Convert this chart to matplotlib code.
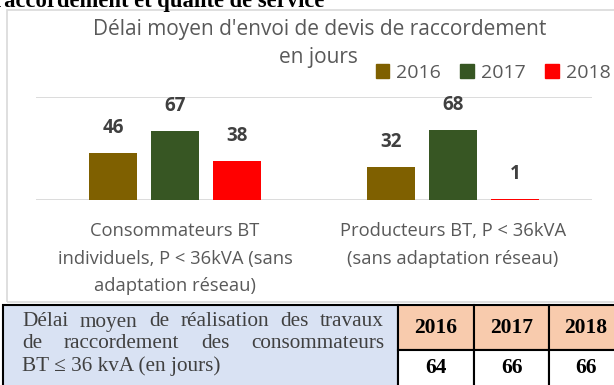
import matplotlib
matplotlib.use('Agg')
import matplotlib.pyplot as plt
import numpy as np
from matplotlib.patches import Rectangle, Patch

W, H = 614, 385

categories = ['Consommateurs BT\nindividuels, P < 36kVA (sans\nadaptation réseau)',
              'Producteurs BT, P < 36kVA\n(sans adaptation réseau)']
years = ['2016', '2017', '2018']
v2016 = [46, 32]
v2017 = [67, 68]
v2018 = [38, 1]
colors = ['#7F6000', '#375623', '#FF0000']

title_lines = ["Délai moyen d'envoi de devis de raccordement", "en jours"]

# table under the chart
table_label = ['Délai moyen de réalisation des travaux',
               'de raccordement des consommateurs',
               'BT ≤ 36 kvA (en jours)']
table_years = ['2016', '2017', '2018']
table_values = ['64', '66', '66']

SANS = ['Open Sans', 'DejaVu Sans']
SERIF = ['Liberation Serif', 'DejaVu Serif']
GREY = '#595959'


def px(x, y):
    # pixel position (from top-left) -> figure fraction
    return x / W, 1 - y / H


fig = plt.figure(figsize=(W / 100, H / 100), dpi=100)

# section heading, cut off by the top edge
fig.text(*px(324, 7), 'raccordement et qualité de service', ha='right', va='baseline',
         family=SERIF, fontweight='bold', fontsize=16.3, color='black')

# chart frame
fig.patches.append(Rectangle(px(7, 302), (630 - 7) / W, (302 - 10) / H,
                             transform=fig.transFigure, fill=False,
                             edgecolor='#D9D9D9', lw=1.2))

ax = fig.add_axes([36 / W, (H - 200) / H, 556 / W, 103 / H])
x = np.arange(len(categories))
off, bw = 0.223, 0.173
for i, (vals, c) in enumerate(zip([v2016, v2017, v2018], colors)):
    bars = ax.bar(x + (i - 1) * off, vals, bw, color=c, label=years[i], zorder=3)
    for b, v in zip(bars, vals):
        ax.annotate(str(v), (b.get_x() + b.get_width() / 2, v), xytext=(0, 18),
                    textcoords='offset points', ha='center', va='center',
                    fontsize=13.5, fontweight='bold', color='#404040', family=SANS)

ax.set_xlim(-0.5, 1.5)
ax.set_ylim(0, 100)
ax.set_yticks([0, 100])
ax.yaxis.grid(True, color='#D9D9D9', lw=1.3)
ax.set_axisbelow(True)
for s in ax.spines.values():
    s.set_visible(False)
ax.tick_params(length=0, labelleft=False)
ax.set_xticks(x)
ax.set_xticklabels(categories, fontsize=13.2, color=GREY, family=SANS, linespacing=1.68)
ax.tick_params(axis='x', pad=16)

fig.text(*px(320, 29), title_lines[0], ha='center', va='center', fontsize=15,
         color=GREY, family=SANS)
fig.text(*px(318, 58), title_lines[1], ha='center', va='center', fontsize=15,
         color=GREY, family=SANS)

handles = [Patch(color=c) for c in colors]
fig.legend(handles, years, loc='center', bbox_to_anchor=px(493, 73), ncol=3,
           frameon=False, handlelength=0.7, handleheight=0.7, handletextpad=0.35,
           columnspacing=1.0, prop={'family': SANS, 'size': 14}, labelcolor=GREY)

# table cells
edge = dict(edgecolor='black', lw=1.5, transform=fig.transFigure)


def cell(x0, y0, x1, y1, fc):
    fig.patches.append(Rectangle(px(x0, y1), (x1 - x0) / W, (y1 - y0) / H,
                                 facecolor=fc, **edge))


cell(3, 305, 398, 392, '#D9E2F3')
cols = [398, 474, 549, 624]
for j in range(3):
    cell(cols[j], 305, cols[j + 1], 350, '#F8CBAD')
    cell(cols[j], 350, cols[j + 1], 392, 'white')
    cx = (cols[j] + min(cols[j + 1], 622)) / 2
    fig.text(*px(cx, 328), table_years[j], ha='center', va='center', family=SERIF,
             fontweight='bold', fontsize=15.5, color='black')
    fig.text(*px(cx, 368), table_values[j], ha='center', va='center', family=SERIF,
             fontweight='bold', fontsize=15.5, color='black')

# justified label in the left cell
renderer = fig.canvas.get_renderer()
ys = [322, 344, 366]
for k, (line, y) in enumerate(zip(table_label, ys)):
    kw = dict(family=SERIF, fontsize=15.3, color='#404040', va='center', ha='left')
    if k == len(table_label) - 1:
        fig.text(*px(22, y), line, **kw)
        continue
    words = line.split()
    texts = [fig.text(0, 0, w, **kw) for w in words]
    widths = [t.get_window_extent(renderer).width for t in texts]
    gap = (384 - 22 - sum(widths)) / (len(words) - 1)
    xx = 22
    for t, w in zip(texts, widths):
        t.set_position(px(xx, y))
        xx += w + gap

fig.savefig('out.png', dpi=100)
